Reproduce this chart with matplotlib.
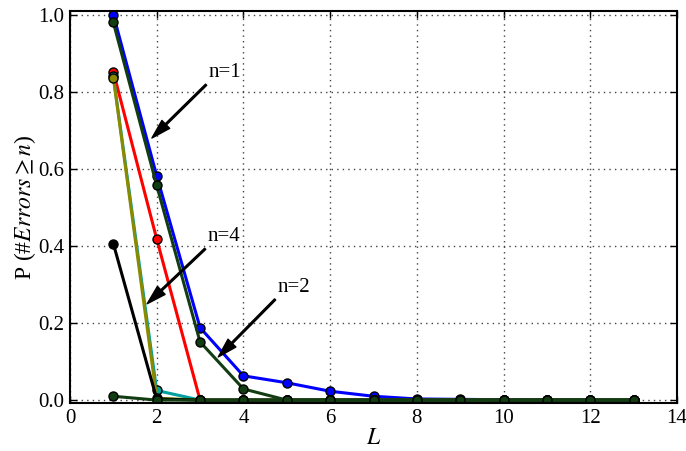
import numpy as np
import matplotlib
matplotlib.use("Agg")
import matplotlib.pyplot as plt

plt.rcParams['font.family'] = 'Liberation Serif'
plt.rcParams['mathtext.fontset'] = 'stix'
plt.rcParams['font.size'] = 15

# data
L = np.arange(1, 14)
p_blue  = [1.0, 0.582, 0.188, 0.063, 0.045, 0.023, 0.010, 0.003, 0.002, 0.001, 0.0005, 0.0, 0.0]
p_red   = [0.852, 0.418, 0, 0, 0, 0, 0, 0, 0, 0, 0, 0, 0]
p_teal  = [0.840, 0.025, 0, 0, 0, 0, 0, 0, 0, 0, 0, 0, 0]
p_olive = [0.837, 0.005, 0, 0, 0, 0, 0, 0, 0, 0, 0, 0, 0]
p_black = [0.406, 0.003, 0, 0, 0, 0, 0, 0, 0, 0, 0, 0, 0]
p_green = [0.980, 0.557, 0.151, 0.029, 0, 0, 0, 0, 0, 0, 0, 0, 0]
p_green2 = [0.010, 0, 0, 0, 0, 0, 0, 0, 0, 0, 0, 0, 0]

dkgreen = '#123d12'

fig = plt.figure(figsize=(6.86, 4.51), dpi=100)
ax = fig.add_axes([0.102, 0.106, 0.885, 0.870])

#curves, drawn bottom to top
series = [(p_blue, '#0000ff'), (p_red, '#ff0000'), (p_teal, '#00a0a0'),
          (p_olive, '#8a8a00'), (p_black, 'black'), (p_green, dkgreen),
          (p_green2, dkgreen)]
for vals, col in series:
    ax.plot(L, vals, '-o', color=col, lw=2.2, markersize=6.5,
            markerfacecolor=col, markeredgecolor='black', markeredgewidth=1)

ax.set_xlim(0, 14)
ax.set_ylim(-0.008, 1.01)
ax.set_xticks(np.arange(0, 15, 2))
ax.set_yticks(np.arange(0, 1.01, 0.2))
ax.set_yticklabels(['0.0', '0.2', '0.4', '0.6', '0.8', '1.0'])
ax.grid(True, linestyle=(0, (1, 3)), color='#444444', linewidth=1)
ax.tick_params(direction='in', top=True, right=True, length=5, width=1,
               labelsize=15, pad=4)
for s in ax.spines.values():
    s.set_linewidth(1.5)

ax.set_xlabel(r'$L$', fontsize=17, labelpad=0)
ax.set_ylabel(r'P (#$Errors \geq n$)', fontsize=17, labelpad=0)

#annotations
arrow = dict(facecolor='black', edgecolor='black', width=1.2, headwidth=8, headlength=14, shrink=0)
ax.annotate('n=1', xy=(1.89, 0.68), xytext=(3.58, 0.85), fontsize=15,
            ha='center', va='center', arrowprops=arrow)
ax.annotate('n=4', xy=(1.78, 0.25), xytext=(3.56, 0.424), fontsize=15,
            ha='center', va='center', arrowprops=arrow)
ax.annotate('n=2', xy=(3.42, 0.112), xytext=(5.17, 0.293), fontsize=15,
            ha='center', va='center', arrowprops=arrow)

plt.savefig('out.png', dpi=100)
